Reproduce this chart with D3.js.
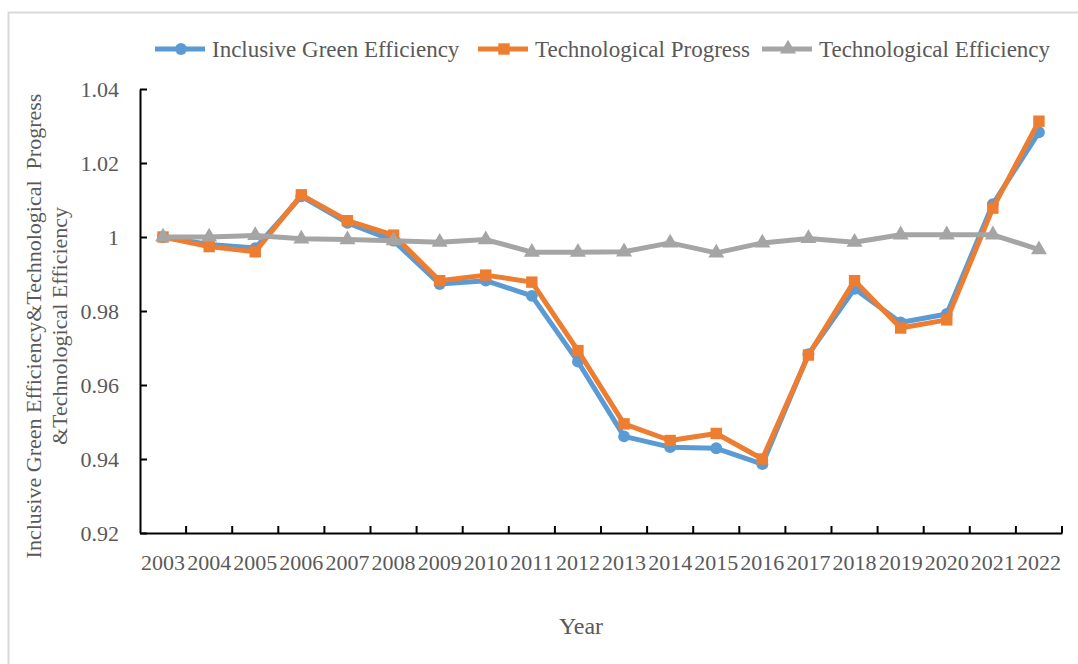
<!DOCTYPE html>
<html lang="en">
<head>
<meta charset="UTF-8">
<title>Inclusive Green Efficiency and its Decomposition</title>
<script src="https://d3js.org/d3.v7.min.js"></script>
<style>
    body { margin: 0; background: #fff; }
    svg { display: block; font-family: "Liberation Serif", "Times New Roman", serif; }
    .axis text { fill: #595959; font-size: 22px; font-family: "Liberation Serif", serif; }
    .axis path, .axis line { stroke: #000; stroke-width: 2px; }
</style>
</head>
<body>
<svg width="1078" height="664"></svg>
<script>
    // data
    const years = ["2003", "2004", "2005", "2006", "2007", "2008", "2009", "2010", "2011", "2012",
        "2013", "2014", "2015", "2016", "2017", "2018", "2019", "2020", "2021", "2022"];
    const greenEff = [1.000, 0.998, 0.997, 1.011, 1.0038, 0.999, 0.9873, 0.9882, 0.9841, 0.9663,
        0.9461, 0.9432, 0.9429, 0.9386, 0.9683, 0.986, 0.9769, 0.9792, 1.0089, 1.0283];
    const techProgress = [1.000, 0.9974, 0.996, 1.0114, 1.0044, 1.0005, 0.9882, 0.9897, 0.9878, 0.9693,
        0.9495, 0.945, 0.9469, 0.940, 0.9681, 0.9882, 0.9754, 0.9776, 1.0078, 1.0313];
    const techEff = [1.000, 1.000, 1.0004, 0.9995, 0.9993, 0.999, 0.9986, 0.9993, 0.9959, 0.9959,
        0.996, 0.9984, 0.9957, 0.9984, 0.9996, 0.9986, 1.0006, 1.0006, 1.0006, 0.9966];
    const yTicks = [0.92, 0.94, 0.96, 0.98, 1.00, 1.02, 1.04];

    const series = [
        { name: "Inclusive Green Efficiency", values: greenEff, color: "#5B9BD5", marker: "circle" },
        { name: "Technological Progress", values: techProgress, color: "#ED7D31", marker: "square" },
        { name: "Technological Efficiency", values: techEff, color: "#A5A5A5", marker: "triangle" }
    ];

    const svg = d3.select("svg");
    const plot = { left: 140, right: 1062, top: 89, bottom: 533 };

    // light frame of the chart area
    svg.append("rect")
        .attr("x", 8.5).attr("y", 12.5)
        .attr("width", 1200).attr("height", 800)
        .attr("fill", "none").attr("stroke", "#d9d9d9").attr("stroke-width", 2);

    const x = d3.scaleBand().domain(years).range([plot.left, plot.right]);
    const y = d3.scaleLinear().domain([0.92, 1.04]).range([plot.bottom, plot.top]);
    const cx = d => x(d) + x.bandwidth() / 2;

    // y axis, ticks inside
    svg.append("g")
        .attr("class", "axis")
        .attr("transform", `translate(${plot.left},0)`)
        .call(d3.axisLeft(y).tickValues(yTicks).tickSizeInner(-7).tickSizeOuter(0).tickPadding(21)
            .tickFormat(d => String(+d.toFixed(2))));

    // x axis, labels centred in bands, ticks on band edges
    const xAxis = svg.append("g")
        .attr("class", "axis")
        .attr("transform", `translate(0,${plot.bottom})`)
        .call(d3.axisBottom(x).tickSize(0).tickPadding(21));

    xAxis.selectAll(".edge")
        .data(years)
        .join("line")
        .attr("class", "edge")
        .attr("x1", d => x(d) + x.bandwidth())
        .attr("x2", d => x(d) + x.bandwidth())
        .attr("y1", 0).attr("y2", -7);

    const line = d3.line().x((d, i) => cx(years[i])).y(d => y(d));

    const symbols = {
        circle: d3.symbol().type(d3.symbolCircle).size(110),
        square: d3.symbol().type(d3.symbolSquare).size(130),
        triangle: d3.symbol().type(d3.symbolTriangle).size(110)
    };

    series.forEach(s => {
        const g = svg.append("g");
        g.append("path")
            .datum(s.values)
            .attr("fill", "none")
            .attr("stroke", s.color)
            .attr("stroke-width", 5)
            .attr("stroke-linejoin", "round")
            .attr("d", line);
        g.selectAll("path.mk")
            .data(s.values)
            .join("path")
            .attr("class", "mk")
            .attr("d", symbols[s.marker])
            .attr("fill", s.color)
            .attr("transform", (d, i) => `translate(${cx(years[i])},${y(d)})`);
    });

    // legend
    const legendX = [155, 478, 762];
    const legend = svg.selectAll(".legend")
        .data(series)
        .join("g")
        .attr("class", "legend")
        .attr("transform", (d, i) => `translate(${legendX[i]},49)`);
    legend.append("line")
        .attr("x1", 0).attr("x2", 50)
        .attr("stroke", d => d.color).attr("stroke-width", 5);
    legend.append("path")
        .attr("d", d => symbols[d.marker]())
        .attr("fill", d => d.color)
        .attr("transform", "translate(26,0)");
    legend.append("text")
        .attr("x", 57).attr("dy", "0.35em")
        .attr("fill", "#595959")
        .style("font-size", "23px")
        .text(d => d.name);

    // axis titles
    svg.append("text")
        .attr("x", 581).attr("y", 634)
        .attr("text-anchor", "middle")
        .attr("fill", "#595959")
        .style("font-size", "24px")
        .text("Year");

    const yTitle = svg.append("text")
        .attr("transform", "translate(0,326) rotate(-90)")
        .attr("text-anchor", "middle")
        .attr("fill", "#595959")
        .style("font-size", "22px");
    yTitle.append("tspan").attr("x", 0).attr("y", 41)
        .attr("xml:space", "preserve")
        .text("Inclusive Green Efficiency&Technological  Progress");
    yTitle.append("tspan").attr("x", 0).attr("y", 67)
        .text("&Technological Efficiency");
</script>
</body>
</html>
